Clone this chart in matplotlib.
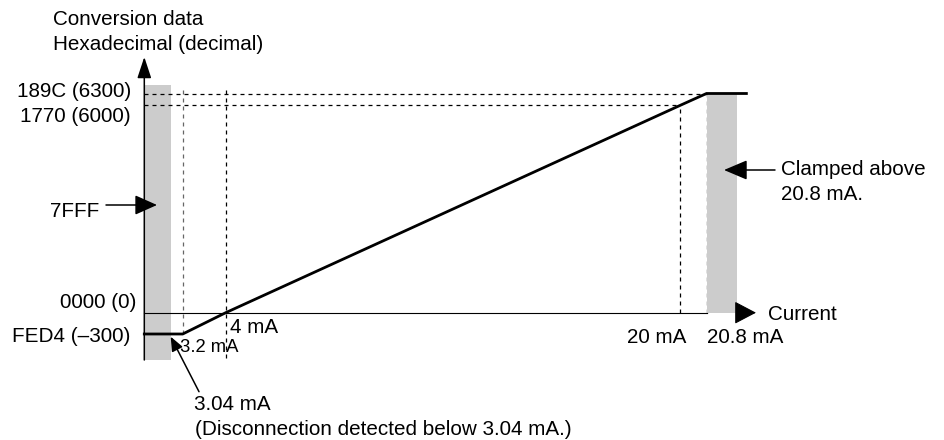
import numpy as np
import matplotlib
matplotlib.use("Agg")
import matplotlib.pyplot as plt

plt.rcParams['font.family'] = ['Liberation Sans', 'DejaVu Sans']

W, H = 945, 440
FS = 14.9

# Schematic (not to scale) axes: anchor points current/value -> pixel
X_MA = [-5.0, 0.0, 3.04, 3.2, 4.0, 20.0, 20.8, 22.0, 30.0]
X_PX = [0, 144.3, 171, 182.7, 225.7, 680.3, 706.5, 737.3, 945]
Y_VAL = [-2000, -300, 0, 6000, 6300, 9000]
Y_PX = np.array([440, 334, 312.7, 105.3, 93.5, 0])

# Conversion characteristic
signal_ma = [0, 3.2, 4, 20, 20.8, 22.35]
signal_val = [-300, -300, 0, 6000, 6300, 6300]

# reference levels
y_levels = [6300, 6000, 0, -300]
y_labels = ['189C (6300)', '1770 (6000)', '0000 (0)', 'FED4 (\u2013300)']
x_points = [3.2, 4, 20, 20.8]
x_labels = ['3.2 mA', '4 mA', '20 mA', '20.8 mA']

# shaded ranges (current)
disconnect_ma = [0, 3.04]
clamp_ma = [20.8, 22.0]

# vertical extents used for drawing the frame
AXIS_BOTTOM, AXIS_TOP = -717, 7354
BAND_TOP = 6545
DASH_TOP = 6517


def fx(x):
    return np.interp(x, X_MA, X_PX)


def ix(p):
    return np.interp(p, X_PX, X_MA)


def fy(v):
    return np.interp(v, Y_VAL, H - Y_PX)


def iy(s):
    return np.interp(s, H - Y_PX, Y_VAL)


def fp(x, y):
    # pixel position measured from top-left
    return (x, H - y)


fig = plt.figure(figsize=(W / 100, H / 100), dpi=100)
ax = fig.add_axes([0, 0, 1, 1])
ax.set_xscale('function', functions=(fx, ix))
ax.set_yscale('function', functions=(fy, iy))
ax.set_xlim(X_MA[0], X_MA[-1])
ax.set_ylim(Y_VAL[0], Y_VAL[-1])
ax.axis('off')

grey = '#cccccc'
dash = (0, (3.2, 3.2))

# grey bands
ax.fill_between(disconnect_ma, AXIS_BOTTOM, BAND_TOP, color=grey, lw=0, zorder=1)
ax.fill_between(clamp_ma, 0, 6300, color=grey, lw=0, zorder=1)

# dashed guides
ax.plot([0, 20.8], [6300, 6300], ls=dash, lw=0.9, color='black', zorder=2)
ax.plot([0, 20], [6000, 6000], ls=dash, lw=0.9, color='black', zorder=2)
ax.plot([3.2, 3.2], [-300, DASH_TOP], ls=dash, lw=0.9, color='0.4', zorder=2)
ax.plot([4, 4], [-685, DASH_TOP], ls=dash, lw=0.9, color='black', zorder=2)
ax.plot([20, 20], [0, 6000], ls=dash, lw=0.9, color='black', zorder=2)
ax.plot([20.8, 20.8], [0, 6300], ls=dash, lw=0.9, color='black', zorder=0.5)

# zero line (x axis) and its arrow head
ax.plot([0, 20.8], [0, 0], lw=0.8, color='black', zorder=3)
ax.annotate('', xy=(22.72, 0), xytext=(22.0, 0),
            arrowprops=dict(arrowstyle='-|>,head_length=13.7,head_width=7.2',
                            mutation_scale=1, lw=0.8, color='black',
                            shrinkA=0, shrinkB=0))

# y axis with arrow
ax.annotate('', xy=(0, AXIS_TOP), xytext=(0, AXIS_BOTTOM),
            arrowprops=dict(arrowstyle='-|>,head_length=13,head_width=4.3',
                            mutation_scale=1, lw=1.1, color='black',
                            shrinkA=0, shrinkB=0), zorder=4)

# characteristic line
ax.plot(signal_ma, signal_val, lw=2, color='black', zorder=5,
        solid_joinstyle='miter')

# axis titles
tkw = dict(xycoords='figure pixels', fontsize=FS, va='baseline')
ax.annotate('Conversion data', fp(53, 25), ha='left', **tkw)
ax.annotate('Hexadecimal (decimal)', fp(53, 50), ha='left', **tkw)
ax.annotate('Current', fp(767.7, 320), ha='left', **tkw)

# y labels
y_pos = [(131, 96.5), (131, 122), (136.5, 308.3), (130.7, 341.7)]
for lab, (px, py) in zip(y_labels, y_pos):
    ax.annotate(lab, fp(px, py), ha='right', **tkw)

# x labels
x_pos = [(180, 351.7, 'left', 13.3), (230, 333.3, 'left', FS),
         (686.7, 343.3, 'right', FS), (706.7, 343.3, 'left', FS)]
for lab, (px, py, ha, fs) in zip(x_labels, x_pos):
    ax.annotate(lab, fp(px, py), xycoords='figure pixels', fontsize=fs,
                va='baseline', ha=ha)

# 7FFF pointer
ax.annotate('7FFF', fp(99, 216.7), ha='right', **tkw)
ax.annotate('', xy=fp(157, 205), xytext=fp(106, 205),
            xycoords='figure pixels', textcoords='figure pixels',
            arrowprops=dict(arrowstyle='-|>,head_length=13.7,head_width=6.1',
                            mutation_scale=1, lw=1.1, color='black',
                            shrinkA=0, shrinkB=0), zorder=6)

# clamp note
ax.annotate('Clamped above', fp(781, 175), ha='left', **tkw)
ax.annotate('20.8 mA.', fp(781, 200), ha='left', **tkw)
ax.annotate('', xy=fp(724, 170), xytext=fp(775, 170),
            xycoords='figure pixels', textcoords='figure pixels',
            arrowprops=dict(arrowstyle='-|>,head_length=14.4,head_width=6.1',
                            mutation_scale=1, lw=1.1, color='black',
                            shrinkA=0, shrinkB=0), zorder=6)

# disconnection note
ax.annotate('3.04 mA', fp(194.3, 410), ha='left', **tkw)
ax.annotate('(Disconnection detected below 3.04 mA.)', fp(195, 435),
            ha='left', **tkw)
ax.annotate('', xy=fp(170.7, 336.7), xytext=fp(199, 391.7),
            xycoords='figure pixels', textcoords='figure pixels',
            arrowprops=dict(arrowstyle='-|>,head_length=8.6,head_width=3.6',
                            mutation_scale=1, lw=1.1, color='black',
                            shrinkA=0, shrinkB=0), zorder=6)

fig.savefig('out.png', dpi=100)
